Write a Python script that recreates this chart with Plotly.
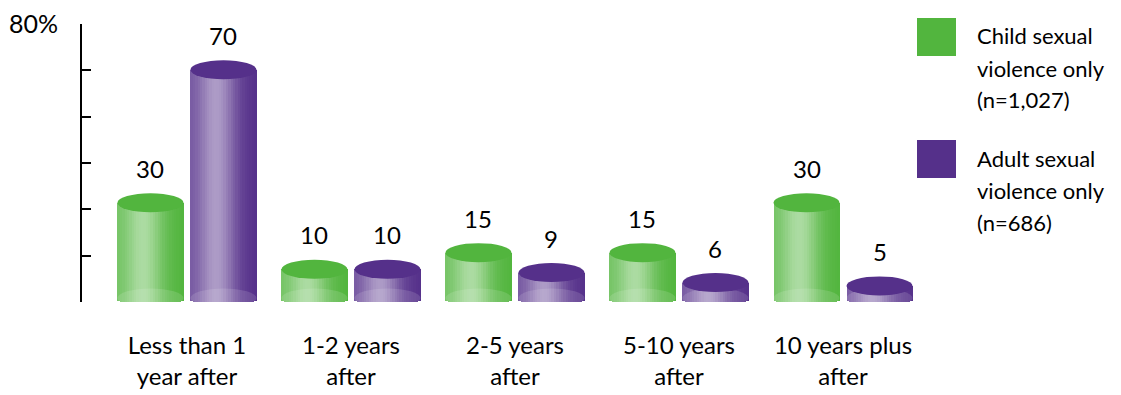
import plotly.graph_objects as go
import numpy as np

# ---- data ----
categories = ["Less than 1<br>year after", "1-2 years<br>after", "2-5 years<br>after",
              "5-10 years<br>after", "10 years plus<br>after"]
child_values = [30, 10, 15, 15, 30]
adult_values = [70, 10, 9, 6, 5]
series_names = ["Child sexual violence only (n=1,027)", "Adult sexual violence only (n=686)"]
legend_lines = [["Child sexual", "violence only", "(n=1,027)"],
                ["Adult sexual", "violence only", "(n=686)"]]
y_top_label = "80%"

# ---- style ----
FONT = "Lato"
TXT = "#000"
GREEN = (82, 181, 62)
PURPLE = (85, 48, 138)
W, H = 1121, 395
ML, MR, MT, MB = 82, 206, 24, 93
Y_RANGE = [-2.7, 80.9]
X_RANGE = [-0.640, 4.439]
plot_w = W - ML - MR
plot_h = H - MT - MB
px_per_y = plot_h / (Y_RANGE[1] - Y_RANGE[0])
px_per_x = plot_w / (X_RANGE[1] - X_RANGE[0])

CYL_W = 66 / px_per_x          # cylinder width in x units
GAP = 7 / px_per_x
OFFS = [-(CYL_W + GAP) / 2, (CYL_W + GAP) / 2]
RY_PX = 9.5
RY = RY_PX / px_per_y
BOTTOM_C = -5 / px_per_y       # bottom ellipse centre (units)
N = 28

def shade(base, u):
    # u in [-1, 1] left->right across cylinder
    w = 0.42 * np.exp(-((u + 0.2) / 0.55) ** 2) + 0.16 * (1 - u) / 2
    w = max(0.0, min(1.0, w))
    r, g, b = [int(round(c + (255 - c) * w)) for c in base]
    return f"rgb({r},{g},{b})"

def rgb(c):
    return f"rgb({c[0]},{c[1]},{c[2]})"

fig = go.Figure()
xs = np.arange(len(categories))
shapes = []
annotations = []

for s, (vals, col) in enumerate([(child_values, GREEN), (adult_values, PURPLE)]):
    off = OFFS[s]
    sw = CYL_W / N
    for j in range(N):
        u = -1 + (2 * j + 1) / N
        base_j = BOTTOM_C - RY * np.sqrt(max(0.0, 1 - u * u))
        tops = [v - RY for v in vals]
        fig.add_trace(go.Bar(
            x=xs, y=[t - base_j for t in tops], base=[base_j] * len(vals),
            width=sw * 1.12, offset=off - CYL_W / 2 + j * sw,
            marker=dict(color=shade(col, u), line=dict(width=0)),
            showlegend=False, hoverinfo="skip", name=series_names[s]))
    for i, v in enumerate(vals):
        cx = xs[i] + off
        # bottom tint
        shapes.append(dict(type="circle", xref="x", yref="y", ysizemode="pixel",
                           yanchor=0, y0=-14.5, y1=4.5,
                           x0=cx - CYL_W / 2, x1=cx + CYL_W / 2,
                           fillcolor="rgba(255,255,255,0.13)", line=dict(width=0)))
        # top ellipse
        shapes.append(dict(type="circle", xref="x", yref="y", ysizemode="pixel",
                           yanchor=v, y0=-2 * RY_PX, y1=0,
                           x0=cx - CYL_W / 2, x1=cx + CYL_W / 2,
                           fillcolor=rgb(col), line=dict(width=0)))
        annotations.append(dict(x=cx, y=v, xref="x", yref="y", text=str(v),
                                showarrow=False, yshift=25, yanchor="middle",
                                font=dict(family=FONT, size=24, color=TXT)))

# legend
sq_tops = [18, 140]
for s, col in enumerate([GREEN, PURPLE]):
    t = sq_tops[s]
    shapes.append(dict(type="rect", xref="paper", yref="paper",
                       x0=(917 - ML) / plot_w, x1=(956 - ML) / plot_w,
                       y0=(H - MB - t) / plot_h, y1=(H - MB - t - 38) / plot_h,
                       fillcolor=rgb(col), line=dict(width=0)))
    for k, line in enumerate(legend_lines[s]):
        yc = t + 18 + 32 * k
        annotations.append(dict(x=(975 - ML) / plot_w, y=(H - MB - yc) / plot_h,
                                xref="paper", yref="paper", text=line, showarrow=False,
                                xanchor="left", yanchor="middle",
                                font=dict(family=FONT, size=22, color=TXT)))

yt = list(np.linspace(Y_RANGE[0] + 0.02, Y_RANGE[1] - 0.02, 7))
ytext = [""] * 6 + [y_top_label]

fig.update_layout(
    template="none",
    width=W, height=H, barmode="overlay", bargap=0,
    margin=dict(l=ML, r=MR, t=MT, b=MB, pad=0, autoexpand=False),
    plot_bgcolor="white", paper_bgcolor="white",
    font=dict(family=FONT, size=22, color=TXT),
    shapes=shapes, annotations=annotations, showlegend=False,
    xaxis=dict(range=X_RANGE, tickvals=list(xs), ticktext=categories, automargin=False,
               showgrid=False, zeroline=False, showline=False, ticks="",
               ticklabelstandoff=27, tickfont=dict(family=FONT, size=24, color=TXT)),
    yaxis=dict(range=Y_RANGE, tickvals=yt, ticktext=ytext, showgrid=False, automargin=False,
               zeroline=False, showline=True, linecolor=TXT, linewidth=2,
               ticks="inside", ticklen=9, tickwidth=2, tickcolor=TXT,
               ticklabelstandoff=17, tickfont=dict(family=FONT, size=25, color=TXT)),
)

fig.write_html("out.html", config={"displayModeBar": False},
               post_script="document.body.style.margin='0';document.body.style.overflow='hidden';")
